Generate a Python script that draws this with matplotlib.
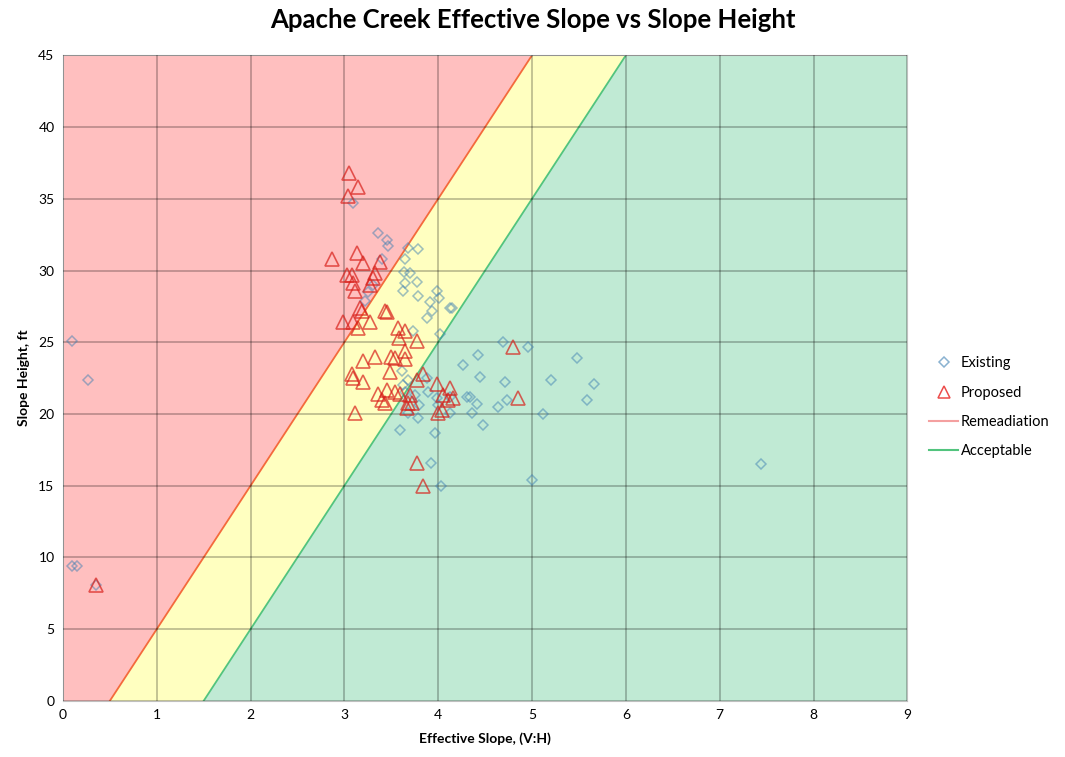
import numpy as np
import matplotlib
matplotlib.use('Agg')
import matplotlib.pyplot as plt
from matplotlib.lines import Line2D

plt.rcParams['font.family'] = ['Lato', 'DejaVu Sans']

# existing slopes (effective slope V:H, height ft)
existing_x = [0.10, 0.27, 0.10, 0.15, 0.35,
              3.09, 3.36, 3.45, 3.47, 3.40, 3.68, 3.79, 3.65, 3.25, 3.30, 3.22,
              3.64, 3.70, 3.77, 3.65, 3.62, 3.78, 3.99, 4.01, 3.91, 4.13, 3.93, 3.88,
              4.15, 4.02, 3.73, 3.61, 3.62, 3.68, 3.65, 3.75, 3.89, 3.99, 3.80, 3.68,
              3.78, 3.59, 3.97, 3.92, 4.03, 3.88, 4.00,
              4.69, 4.96, 5.48, 4.42, 4.26, 4.45, 4.71, 5.20, 5.66, 5.59, 4.31, 4.34,
              4.41, 4.64, 4.73, 5.12, 4.48, 4.13, 4.13, 4.36, 5.00, 7.44]
existing_y = [25.1, 22.4, 9.4, 9.4, 8.1,
              34.7, 32.6, 32.1, 31.7, 30.8, 31.6, 31.5, 30.8, 28.5, 29.0, 27.9,
              29.9, 29.8, 29.2, 29.1, 28.6, 28.2, 28.6, 28.1, 27.8, 27.4, 27.2, 26.7,
              27.4, 25.6, 25.8, 23.0, 22.0, 22.4, 21.5, 21.3, 21.5, 21.1, 20.6, 20.1,
              19.7, 18.9, 18.7, 16.6, 15.0, 22.5, 20.6,
              25.0, 24.7, 23.9, 24.1, 23.4, 22.6, 22.2, 22.4, 22.1, 21.0, 21.2, 21.2,
              20.7, 20.5, 21.0, 20.0, 19.2, 21.2, 20.1, 20.1, 15.4, 16.5]

# proposed slopes
proposed_x = [0.35,
              3.05, 3.15, 3.04, 2.87, 3.13, 3.20, 3.38, 3.03, 3.08, 3.09, 3.11, 3.27,
              3.31, 3.33, 3.17, 3.19, 2.99, 3.09, 3.15, 3.27, 3.43, 3.45, 3.57, 3.65,
              3.58, 3.77, 3.20, 3.33, 3.50, 3.54, 3.65, 3.65,
              3.08, 3.09, 3.20, 3.49, 3.36, 3.45, 3.40, 3.43, 3.54, 3.59, 3.70, 3.68,
              3.72, 3.67, 3.84, 3.77, 3.99, 4.05, 4.00, 4.10, 3.11, 3.77, 3.84,
              4.80, 4.85, 4.13, 4.16, 4.04]
proposed_y = [8.1,
              36.8, 35.8, 35.2, 30.8, 31.2, 30.5, 30.6, 29.7, 29.7, 29.1, 28.6, 29.0,
              29.5, 29.8, 27.4, 27.2, 26.4, 26.4, 26.0, 26.4, 27.2, 27.1, 26.0, 25.8,
              25.3, 25.1, 23.7, 24.0, 24.0, 23.9, 23.8, 24.4,
              22.8, 22.5, 22.2, 22.9, 21.4, 21.7, 21.0, 20.8, 21.5, 21.4, 21.3, 20.8,
              20.8, 20.4, 22.8, 22.4, 22.1, 21.3, 20.1, 21.0, 20.1, 16.6, 15.0,
              24.7, 21.1, 21.8, 21.1, 20.3]

# design lines: slope height = 10 * (slope - offset)
remediation_x = [0.5, 5.0]
remediation_y = [0, 45]
acceptable_x = [1.5, 6.0]
acceptable_y = [0, 45]

fig = plt.figure(figsize=(10.65, 7.57), dpi=100)
ax = fig.add_axes([0.059, 0.074, 0.793, 0.853])

# background zones
ax.fill([0, remediation_x[0], remediation_x[1], 0], [0, 0, 45, 45], color='#ffbfbf', zorder=0, lw=0)
ax.fill([remediation_x[0], acceptable_x[0], acceptable_x[1], remediation_x[1]], [0, 0, 45, 45],
        color='#ffffc0', zorder=0, lw=0)
ax.fill([acceptable_x[0], 9, 9, acceptable_x[1]], [0, 0, 45, 45], color='#c0ead4', zorder=0, lw=0)

ax.plot(remediation_x, remediation_y, color='#f46a3c', lw=1.3, zorder=2)
ax.plot(acceptable_x, acceptable_y, color='#52c47e', lw=1.3, zorder=2)

ax.plot(existing_x, existing_y, 'D', ms=5.3, mfc='none', mec='#3d7fb2', mew=1.1, alpha=0.5, zorder=3)
ax.plot(proposed_x, proposed_y, '^', ms=10, mfc='none', mec='#d8201a', mew=1.2, alpha=0.7, zorder=4)

ax.set_xlim(0, 9)
ax.set_ylim(0, 45)
ax.set_xticks(range(0, 10))
ax.set_yticks(range(0, 46, 5))
ax.grid(True, color='#000000', alpha=0.28, lw=1.2)
ax.set_axisbelow(False)
ax.tick_params(length=0, labelsize=10, pad=6)
for s in ax.spines.values():
    s.set_color('#bfbfbf')

ax.set_xlabel('Effective Slope, (V:H)', fontsize=10, fontweight='bold', labelpad=8)
ax.set_ylabel('Slope Height, ft', fontsize=10, fontweight='bold', labelpad=6)
fig.suptitle('Apache Creek Effective Slope vs Slope Height', fontsize=18.5, fontweight='bold',
             x=0.5, y=0.99)

handles = [
    Line2D([], [], marker='D', ls='none', ms=5, mfc='none', mec='#3d7fb2', alpha=0.6, mew=1.1),
    Line2D([], [], marker='^', ls='none', ms=8, mfc='none', mec='#e8201e', alpha=0.8, mew=1.1),
    Line2D([], [], color='#f4a0a0', lw=1.5),
    Line2D([], [], color='#52c47e', lw=1.5),
]
fig.legend(handles, ['Existing', 'Proposed', 'Remeadiation', 'Acceptable'],
           loc='center left', bbox_to_anchor=(0.86, 0.462), frameon=False,
           fontsize=10.5, handlelength=2.0, handletextpad=0.2, labelspacing=1.05)

fig.savefig('out.png', dpi=100)
